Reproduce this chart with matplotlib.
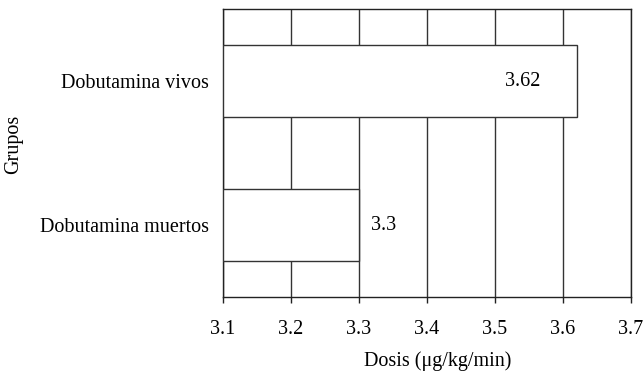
#! /usr/bin/env python3

import matplotlib
matplotlib.use('Agg')
import matplotlib.pyplot as plt

# groups from bottom to top, mean dose per group
grupos = ['Dobutamina muertos', 'Dobutamina vivos']
dosis = [3.3, 3.62]
etiquetas = ['3.3', '3.62']
ticks_x = [3.1, 3.2, 3.3, 3.4, 3.5, 3.6, 3.7]

plt.rcParams['font.family'] = ['Liberation Serif', 'DejaVu Serif']
plt.rcParams['font.size'] = 14.5

fig = plt.figure(figsize=(6.44, 3.75), dpi=100)
ax = fig.add_axes([0.3463, 0.208, 0.6335, 0.768])

base = ticks_x[0]
pos = list(range(len(grupos)))
ax.barh(pos, [d - base for d in dosis], left=base, height=0.5,
        color='white', edgecolor='#333333', linewidth=1.0, zorder=3)

# value labels: inside the long bar, beside the short one
for y, d, txt in zip(pos, dosis, etiquetas):
    if d > 3.5:
        ax.text(d - 0.08, y, txt, ha='center', va='center', zorder=4)
    else:
        ax.text(d + 0.017, y, txt, ha='left', va='center', zorder=4)

ax.set_xlim(ticks_x[0], ticks_x[-1])
ax.set_ylim(-0.5, len(grupos) - 0.5)
ax.set_xticks(ticks_x)
ax.set_xticklabels([str(t) for t in ticks_x])
ax.set_yticks(pos)
ax.set_yticklabels(grupos)

ax.grid(axis='x', color='#333333', linewidth=1.0, zorder=1)
ax.set_axisbelow(True)
for s in ax.spines.values():
    s.set_color('#222222')
    s.set_linewidth(1.0)

ax.tick_params(axis='x', direction='out', length=4.5, width=1.0,
               color='#222222', pad=12)
ax.tick_params(axis='y', length=0, pad=10)

ax.set_xlabel('Dosis (μg/kg/min)')
ax.set_ylabel('Grupos')
ax.xaxis.set_label_coords(0.525, -0.19)
ax.yaxis.set_label_coords(-0.49, 0.53)

plt.savefig('out.png', dpi=100)
